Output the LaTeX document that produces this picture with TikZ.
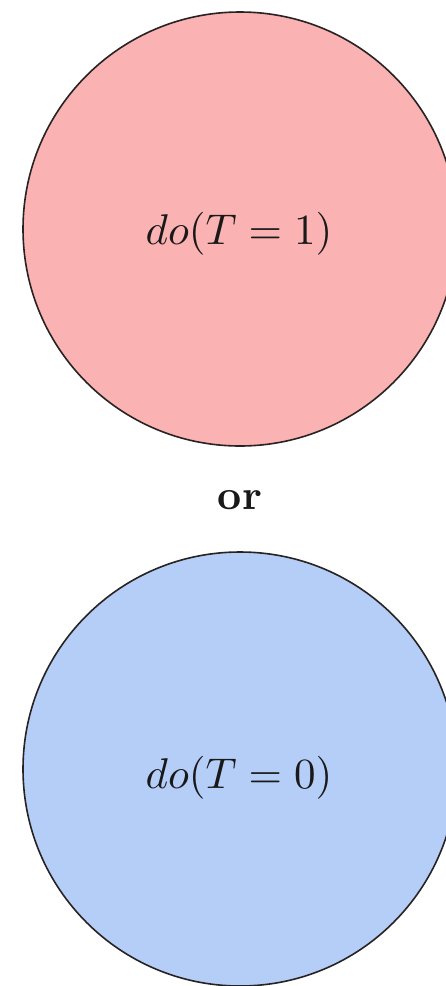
\documentclass[tikz,border=0pt]{standalone}
\definecolor{pinkfill}{RGB}{250,178,178}
\definecolor{bluefill}{RGB}{181,206,248}
\definecolor{edge}{RGB}{40,35,35}
\tikzset{
  bigcirc/.style={circle, draw=edge, line width=1.6pt, minimum size=434pt, inner sep=0pt},
  label text/.style={inner sep=0pt, text=black!90},
}
\begin{document}
\begin{tikzpicture}[x=1pt,y=-1pt]
\useasboundingbox (0,0) rectangle (446,986);
\clip (0,0) rectangle (446,986);
\fill[white] (0,0) rectangle (446,986);
\node[bigcirc, fill=pinkfill] (top) at (240,229) {};
\node[bigcirc, fill=bluefill] (bottom) at (240,769) {};
\node[label text, scale=4.3] (t1) at (239,234) {$do(T=1)$};
\node[label text, scale=4.3] (t0) at (239,778) {$do(T=0)$};
\node[label text, scale=4.2, font=\bfseries] (or) at (240,500) {or};
\end{tikzpicture}
\end{document}
